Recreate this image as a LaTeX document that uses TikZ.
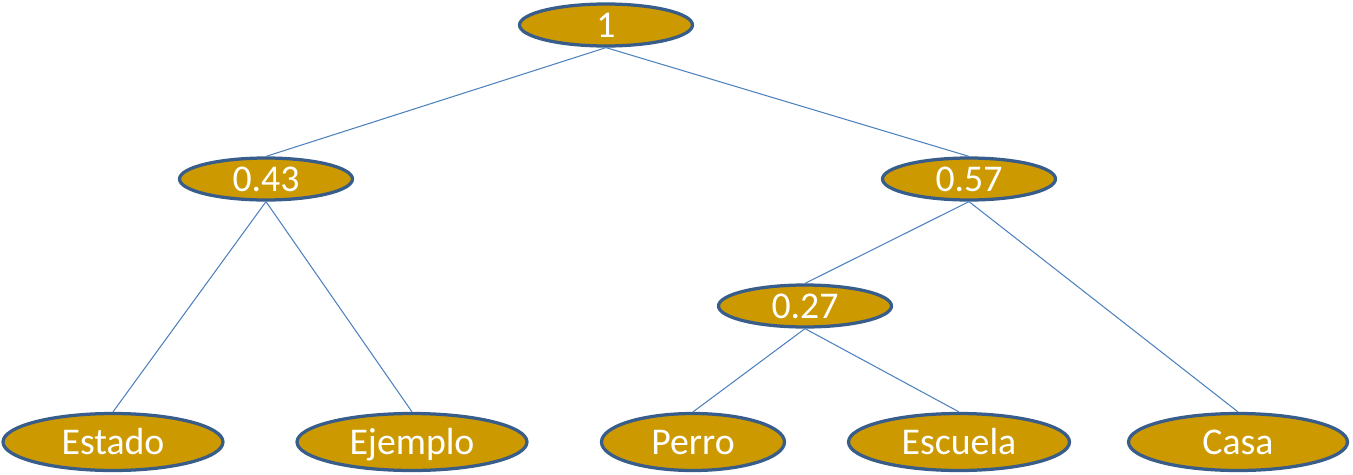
\documentclass[tikz,border=0pt]{standalone}
\usepackage{fontspec}
\setmainfont{Carlito}
\usepackage{xcolor}
\usetikzlibrary{shapes.geometric}

\definecolor{gold}{RGB}{204,153,0}
\definecolor{rim}{RGB}{56,93,138}
\definecolor{wire}{RGB}{79,129,189}

\begin{document}
\begin{tikzpicture}[
    x=0.02cm, y=-0.02cm,
    prob/.style={ellipse, draw=rim, fill=gold, line width=0.065cm, inner sep=0pt,
        minimum width=3.46cm, minimum height=0.84cm, text=white,
        text height=13.8pt, text depth=0pt, font=\fontsize{21.5}{24}\selectfont},
    leaf/.style={prob, minimum height=1.14cm},
    link/.style={draw=wire, line width=0.6pt},
]
\useasboundingbox (0,0) rectangle (1353,474);

\node[prob] (root) at (606,25) {1};
\node[prob] (left) at (266,179) {0.43};
\node[prob] (right) at (969,179) {0.57};
\node[prob] (mid) at (805,306) {0.27};

\node[leaf, minimum width=4.40cm] (estado) at (113,442) {Estado};
\node[leaf, minimum width=4.60cm] (ejemplo) at (412,442) {Ejemplo};
\node[leaf, minimum width=3.66cm] (perro) at (693,442) {Perro};
\node[leaf, minimum width=4.42cm] (escuela) at (959,442) {Escuela};
\node[leaf, minimum width=4.38cm] (casa) at (1238,442) {Casa};

\draw[link] (root.south) -- (left.north);
\draw[link] (root.south) -- (right.north);
\draw[link] (left.south) -- (estado.north);
\draw[link] (left.south) -- (ejemplo.north);
\draw[link] (right.south) -- (mid.north);
\draw[link] (right.south) -- (casa.north);
\draw[link] (mid.south) -- (perro.north);
\draw[link] (mid.south) -- (escuela.north);
\end{tikzpicture}
\end{document}
